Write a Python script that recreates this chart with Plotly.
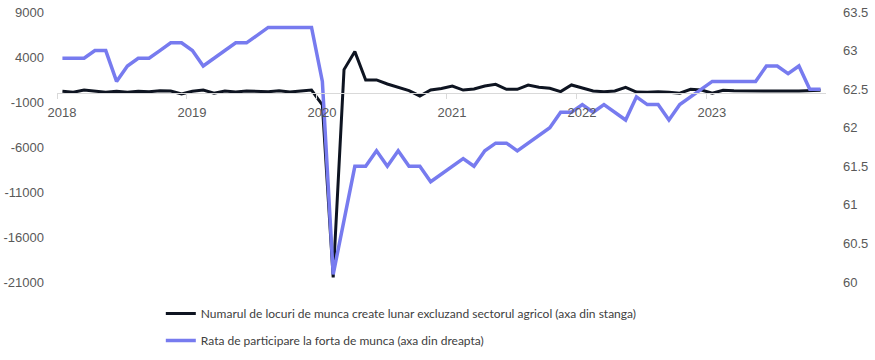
import plotly.graph_objects as go

year_labels = ["2018", "2019", "2020", "2021", "2022", "2023"]

jobs = [190, 80, 330, 190, 80, 190, 80, 190, 150, 260, 220, -110,
        190, 330, -30, 220, 110, 220, 220, 150, 260, 110, 220, 330,
        -1330, -20500, 2600, 4600, 1450, 1450, 1000, 630, 260, -330, 330, 500,
        780, 330, 445, 780, 960, 410, 410, 890, 630, 520, 150, 890,
        520, 220, 150, 220, 630, 100, 70, 150, 70, -30, 410, 330,
        -30, 300, 250, 230, 220, 200, 200, 210, 220, 250, 300]

participation = [62.9, 62.9, 62.9, 63.0, 63.0, 62.6, 62.8, 62.9, 62.9, 63.0, 63.1, 63.1,
                 63.0, 62.8, 62.9, 63.0, 63.1, 63.1, 63.2, 63.3, 63.3, 63.3, 63.3, 63.3,
                 62.6, 60.1, 60.8, 61.5, 61.5, 61.7, 61.5, 61.7, 61.5, 61.5, 61.3, 61.4,
                 61.5, 61.6, 61.5, 61.7, 61.8, 61.8, 61.7, 61.8, 61.9, 62.0, 62.2, 62.2,
                 62.3, 62.2, 62.3, 62.2, 62.1, 62.4, 62.3, 62.3, 62.1, 62.3, 62.4, 62.5,
                 62.6, 62.6, 62.6, 62.6, 62.6, 62.8, 62.8, 62.7, 62.8, 62.5, 62.5]

left_ticks = [-21000, -16000, -11000, -6000, -1000, 4000, 9000]
left_ticktext = ["-21000", "-16000", "-11000", "-6000", "-1000", "4000", "9000"]
right_ticks = [60, 60.5, 61, 61.5, 62, 62.5, 63, 63.5]
right_ticktext = ["60", "60.5", "61", "61.5", "62", "62.5", "63", "63.5"]

name_jobs = "Numarul de locuri de munca create lunar excluzand sectorul agricol (axa din stanga)"
name_part = "Rata de participare la forta de munca (axa din dreapta)"

months = list(range(len(jobs)))
left_range = [left_ticks[0], left_ticks[-1]]
right_range = [right_ticks[0], right_ticks[-1]]

fig = go.Figure()
fig.add_trace(go.Scatter(x=months, y=jobs, mode="lines", name=name_jobs,
                         line=dict(color="#0E1421", width=3), yaxis="y",
                         legendgroup="a"))
fig.add_trace(go.Scatter(x=months, y=participation, mode="lines", name=name_part,
                         line=dict(color="#777BEF", width=3.5), yaxis="y2",
                         legendgroup="b"))

zero_pos = (0 - left_range[0]) / (left_range[1] - left_range[0])
tick_font = dict(family="Liberation Sans, Arial, sans-serif", size=13, color="#595959")

fig.update_layout(
    width=875, height=360,
    margin=dict(l=57, r=49, t=12, b=78, autoexpand=False),
    paper_bgcolor="white", plot_bgcolor="white",
    showlegend=True,
    legend=dict(orientation="v", x=0.135, xanchor="left", y=-0.0626, yanchor="top",
                font=dict(family="Lato, sans-serif", size=12, color="#404040"),
                tracegroupgap=8, itemwidth=30, bgcolor="rgba(0,0,0,0)"),
    xaxis=dict(range=[-0.5, len(jobs) - 0.5], anchor="free", position=zero_pos,
               tickvals=[12 * k - 0.5 for k in range(len(year_labels))],
               ticktext=year_labels, ticklabelshift=5, ticklabelstandoff=2,
               ticks="outside", ticklen=5, tickcolor="#D9D9D9",
               showline=True, linecolor="#D9D9D9", linewidth=1,
               showgrid=False, zeroline=False, tickfont=tick_font),
    yaxis=dict(range=left_range, tickvals=left_ticks, ticktext=left_ticktext, side="left",
               showgrid=False, zeroline=False, showline=False,
               ticklabelstandoff=12, tickfont=tick_font),
    yaxis2=dict(range=right_range, tickvals=right_ticks, ticktext=right_ticktext,
                side="right", overlaying="y",
                showgrid=False, zeroline=False, showline=False,
                ticklabelstandoff=16, tickfont=tick_font),
)

# remove the page's default 8px body margin so the figure fills the window
fig.write_html("out.html", config={"displayModeBar": False},
               post_script="document.body.style.margin='0';")
